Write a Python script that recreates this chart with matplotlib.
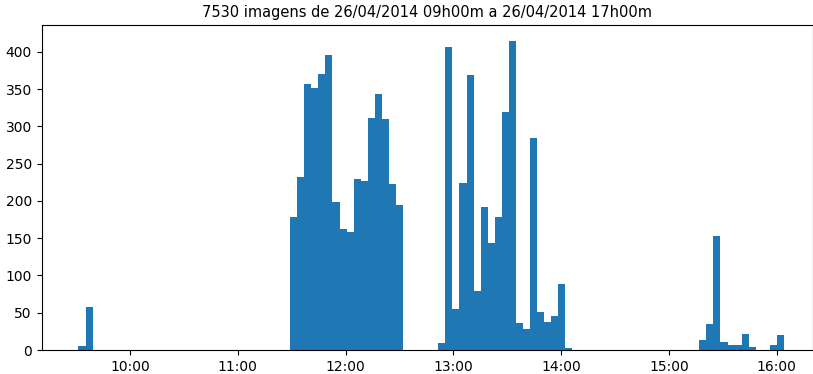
import numpy as np
import pandas as pd
import matplotlib
matplotlib.use('Agg')
import matplotlib.pyplot as plt
import matplotlib.dates as mdates

title = '7530 imagens de 26/04/2014 09h00m a 26/04/2014 17h00m'

# first / last image time, 100 bins between them
t_first = '2014-04-26 09:31:20'
t_last = '2014-04-26 16:04:00'
n_bins = 100

# images per bin
counts = [
	6, 58, 0, 0, 0, 0, 0, 0, 0, 0,
	0, 0, 0, 0, 0, 0, 0, 0, 0, 0,
	0, 0, 0, 0, 0, 0, 0, 0, 0, 0,
	179, 232, 357, 351, 370, 396, 199, 162, 158, 230,
	227, 311, 343, 310, 223, 195, 0, 0, 0, 0,
	0, 10, 406, 55, 224, 369, 79, 192, 144, 179,
	319, 415, 36, 28, 284, 51, 37, 45, 88, 3,
	0, 0, 0, 0, 0, 0, 0, 0, 0, 0,
	0, 0, 0, 0, 0, 0, 0, 0, 13, 35,
	153, 11, 7, 7, 21, 4, 0, 0, 7, 20,
]

x_min = '2014-04-26 09:10:45'
x_max = '2014-04-26 16:19:52'

start = mdates.date2num(pd.Timestamp(t_first))
end = mdates.date2num(pd.Timestamp(t_last))
edges = np.linspace(start, end, n_bins + 1)

fig = plt.figure(figsize=(8.13, 3.74), dpi=100)
ax = fig.add_axes([41.5/813, 24/374, 771/813, 324.7/374])
ax.hist(edges[:-1], bins=edges, weights=counts, color='#1f77b4')
ax.set_title(title, fontsize=10.5)

ax.xaxis.set_major_locator(mdates.HourLocator())
ax.xaxis.set_major_formatter(mdates.DateFormatter('%H:%M'))
ax.set_xlim(mdates.date2num(pd.Timestamp(x_min)), mdates.date2num(pd.Timestamp(x_max)))
ax.tick_params(labelsize=10)

fig.savefig('out.png', dpi=100)
